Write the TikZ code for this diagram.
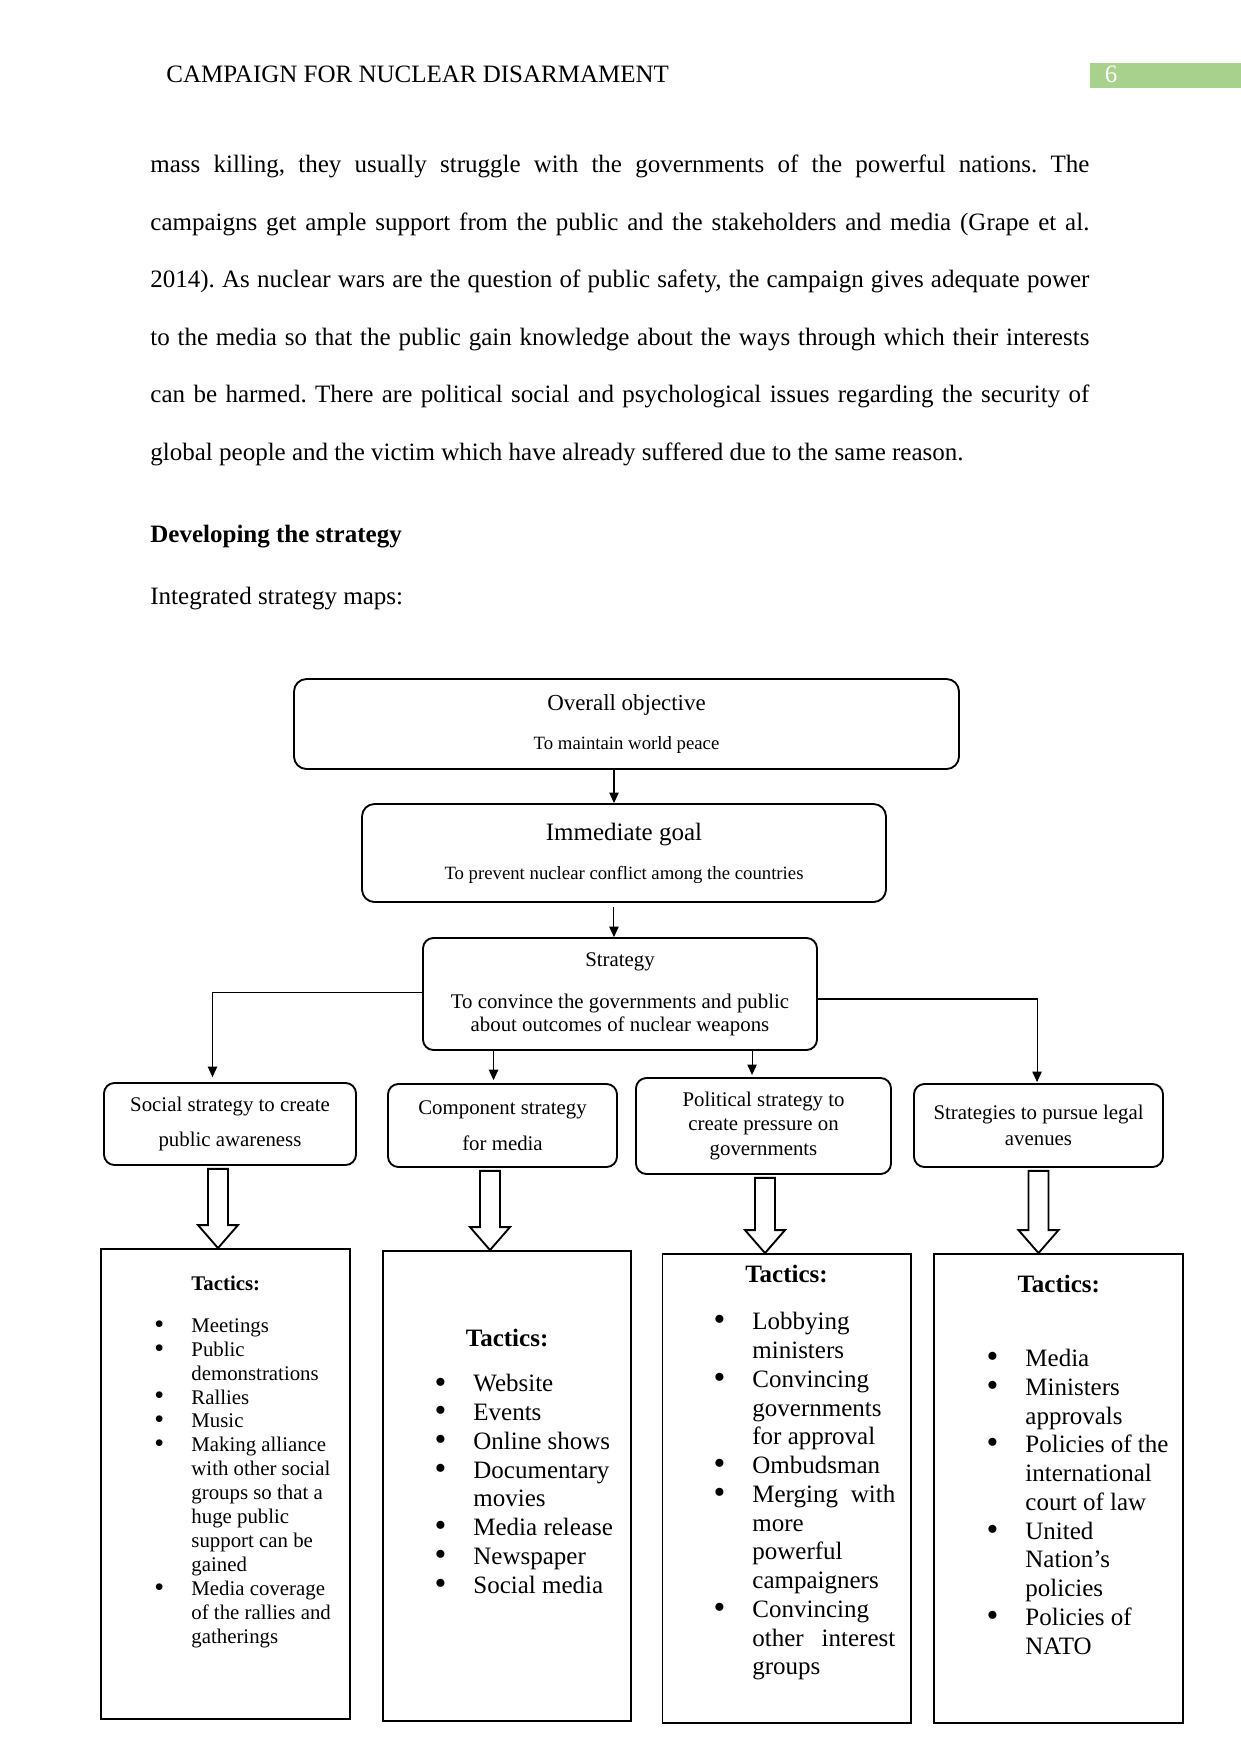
\documentclass[tikz,border=0pt]{standalone}
\usepackage{fontspec}
\setmainfont{Liberation Serif}
\usetikzlibrary{arrows.meta,calc}
\frenchspacing
\definecolor{pagegreen}{RGB}{169,209,142}
% bullet hung to the left of an item line
\newcommand{\tb}{\llap{\raisebox{-0.1ex}{\scalebox{1.35}{\textbullet}}\hspace{13pt}}}
% one fully justified line of the body text
\newcommand{\jline}[1]{\makebox[450.7pt][s]{#1}}
% hollow block arrow from one box down to the next
\newcommand{\blockarrow}[3]{%
  \path ([xshift=#3*0.48pt, yshift=-1.4pt]#1.south) coordinate (ba-top)
        (ba-top |- #2.north) coordinate (ba-tip);
  \draw[hollow] ($(ba-top)+(-10,0)$) -- ($(ba-tip)+(-10,-23)$) -- ($(ba-tip)+(-20,-23)$)
     -- (ba-tip) -- ($(ba-tip)+(20,-23)$) -- ($(ba-tip)+(10,-23)$) -- ($(ba-top)+(10,0)$) -- cycle;
}
\tikzset{
  goalbox/.style  = {draw, line width=0.9pt, rounded corners=6pt, align=center, inner sep=2pt},
  stratbox/.style = {goalbox, rounded corners=5pt},
  tacbox/.style   = {draw, line width=0.9pt, inner sep=0pt},
  % multi-line texts sit on the baseline of their last line
  taclist/.style  = {anchor=base west, align=left, inner sep=0pt},
  bodytext/.style = {anchor=base west, align=left, inner sep=0pt, font=\fontsize{12}{27.6}\selectfont},
  link/.style     = {line width=0.5pt, -{Triangle[length=5pt,width=4.5pt]}},
  hollow/.style   = {draw, line width=0.9pt, fill=white, line join=miter},
}
\begin{document}
\begin{tikzpicture}[x=0.48pt, y=-0.48pt]
  \useasboundingbox (0,0) rectangle (1241,1754);

  % running head
  \node[bodytext] (head) at (166,82) {CAMPAIGN FOR NUCLEAR DISARMAMENT};
  \node[fill=pagegreen, anchor=north west, minimum width=151*0.48pt,
        minimum height=25*0.48pt, inner sep=0pt] (pgbox) at (1090,63) {};
  \node[bodytext, anchor=base, text=white] (pgno) at (1111,82) {6};

  % body text
  \node[bodytext] (para) at (150,460) {%
    \jline{mass killing, they usually struggle with the governments of the powerful nations. The}\\
    \jline{campaigns get ample support from the public and the stakeholders and media (Grape et al.}\\
    \jline{2014). As nuclear wars are the question of public safety, the campaign gives adequate power}\\
    \jline{to the media so that the public gain knowledge about the ways through which their interests}\\
    \jline{can be harmed. There are political social and psychological issues regarding the security of}\\
    global people and the victim which have already suffered due to the same reason.};
  \node[bodytext, font=\fontsize{12}{14}\selectfont\bfseries] (dev) at (150,542) {Developing the strategy};
  \node[bodytext] (maps) at (150,604.5) {Integrated strategy maps:};

  % objective, goal, strategy
  \node[goalbox, minimum width=665*0.48pt, minimum height=90*0.48pt,
        font=\fontsize{9}{18.7}\selectfont] (ovr) at (626.5,724)
        {{\fontsize{11}{13}\selectfont Overall objective}\\To maintain world peace};
  \node[goalbox, minimum width=524*0.48pt, minimum height=98*0.48pt,
        font=\fontsize{9}{18.7}\selectfont] (goal) at (624,853)
        {{\fontsize{12}{14}\selectfont Immediate goal}\\To prevent nuclear conflict among the countries};
  \node[stratbox, minimum width=394*0.48pt, minimum height=112*0.48pt,
        font=\fontsize{10}{11}\selectfont] (strat) at (620,994)
        {Strategy\\[9.2pt]To convince the governments and public\\about outcomes of nuclear weapons};

  % the four strategies
  \node[stratbox, minimum width=252*0.48pt, minimum height=82*0.48pt,
        font=\fontsize{10}{16.8}\selectfont] (soc) at (230,1124) {Social strategy to create\\public awareness};
  \node[stratbox, minimum width=229*0.48pt, minimum height=83*0.48pt,
        font=\fontsize{10}{17.3}\selectfont] (comp) at (502.5,1125.5) {Component strategy\\for media};
  \node[stratbox, minimum width=255*0.48pt, minimum height=96*0.48pt,
        font=\fontsize{10}{11.9}\selectfont] (pol) at (763.5,1126) {Political strategy to\\create pressure on\\governments};
  \node[stratbox, minimum width=249*0.48pt, minimum height=83*0.48pt,
        font=\fontsize{10}{12.7}\selectfont] (legal) at (1038.5,1125.5) {Strategies to pursue legal\\avenues};

  \draw[link] ([xshift=-4.8pt]goal.north |- ovr.south) -- ([xshift=-4.8pt]goal.north);
  \draw[link] ([xshift=-2.9pt, yshift=-2pt]strat.north |- goal.south) -- ([xshift=-2.9pt]strat.north);
  \draw[link] ([yshift=0.5pt]strat.west) -| ([xshift=-8.4pt, yshift=2.4pt]soc.north);
  \draw[link] ([yshift=-2.4pt]strat.east) -| ([xshift=-0.7pt, yshift=0.5pt]legal.north);
  \draw[link] ([xshift=-4.3pt]comp.north |- strat.south) -- ([xshift=-4.3pt, yshift=1.4pt]comp.north);
  \draw[link] ([xshift=-5.5pt]pol.north |- strat.south) -- ([xshift=-5.5pt, yshift=1pt]pol.north);

  % tactics
  \node[tacbox, minimum width=249*0.48pt, minimum height=470*0.48pt] (tac1) at (225.4,1484) {};
  \node[tacbox, minimum width=248*0.48pt, minimum height=470*0.48pt] (tac2) at (507,1486) {};
  \node[tacbox, minimum width=248.5*0.48pt, minimum height=469*0.48pt] (tac3) at (786.8,1488.5) {};
  \node[tacbox, minimum width=249*0.48pt, minimum height=469*0.48pt] (tac4) at (1058.5,1488.5) {};

  \blockarrow{soc}{tac1}{-12}
  \blockarrow{comp}{tac2}{-12.5}
  \blockarrow{pol}{tac3}{1.5}
  \blockarrow{legal}{tac4}{0}

  \node[taclist, font=\fontsize{10}{11.5}\selectfont] (list1) at (191,1643.6)
    {\textbf{Tactics:}\\[8.7pt]\tb Meetings\\\tb Public\\demonstrations\\\tb Rallies\\\tb Music\\
     \tb Making alliance\\with other social\\groups so that a\\huge public\\support can be\\gained\\
     \tb Media coverage\\of the rallies and\\gatherings};
  \node[taclist, font=\fontsize{12}{13.8}\selectfont] (list2) at (473,1593.2)
    {\hspace*{-3.6pt}\textbf{Tactics:}\\[8pt]\tb Website\\\tb Events\\\tb Online shows\\\tb Documentary\\movies\\
     \tb Media release\\\tb Newspaper\\\tb Social media};
  \node[taclist, font=\fontsize{12}{13.8}\selectfont] (list3) at (752,1674.8)
    {\hspace*{-3.4pt}\textbf{Tactics:}\\[8.8pt]\tb Lobbying\\ministers\\\tb Convincing\\governments\\for approval\\
     \tb Ombudsman\\\tb \makebox[68.6pt][s]{Merging with}\\more\\powerful\\campaigners\\
     \tb Convincing\\\makebox[68.6pt][s]{other interest}\\groups};
  \node[taclist, font=\fontsize{12}{13.8}\selectfont] (list4) at (1025,1654)
    {\hspace*{-3.8pt}\textbf{Tactics:}\\[21.5pt]\tb Media\\\tb Ministers\\approvals\\\tb Policies of the\\international\\
     court of law\\\tb United\\Nation’s\\policies\\\tb Policies of\\NATO};
\end{tikzpicture}
\end{document}
